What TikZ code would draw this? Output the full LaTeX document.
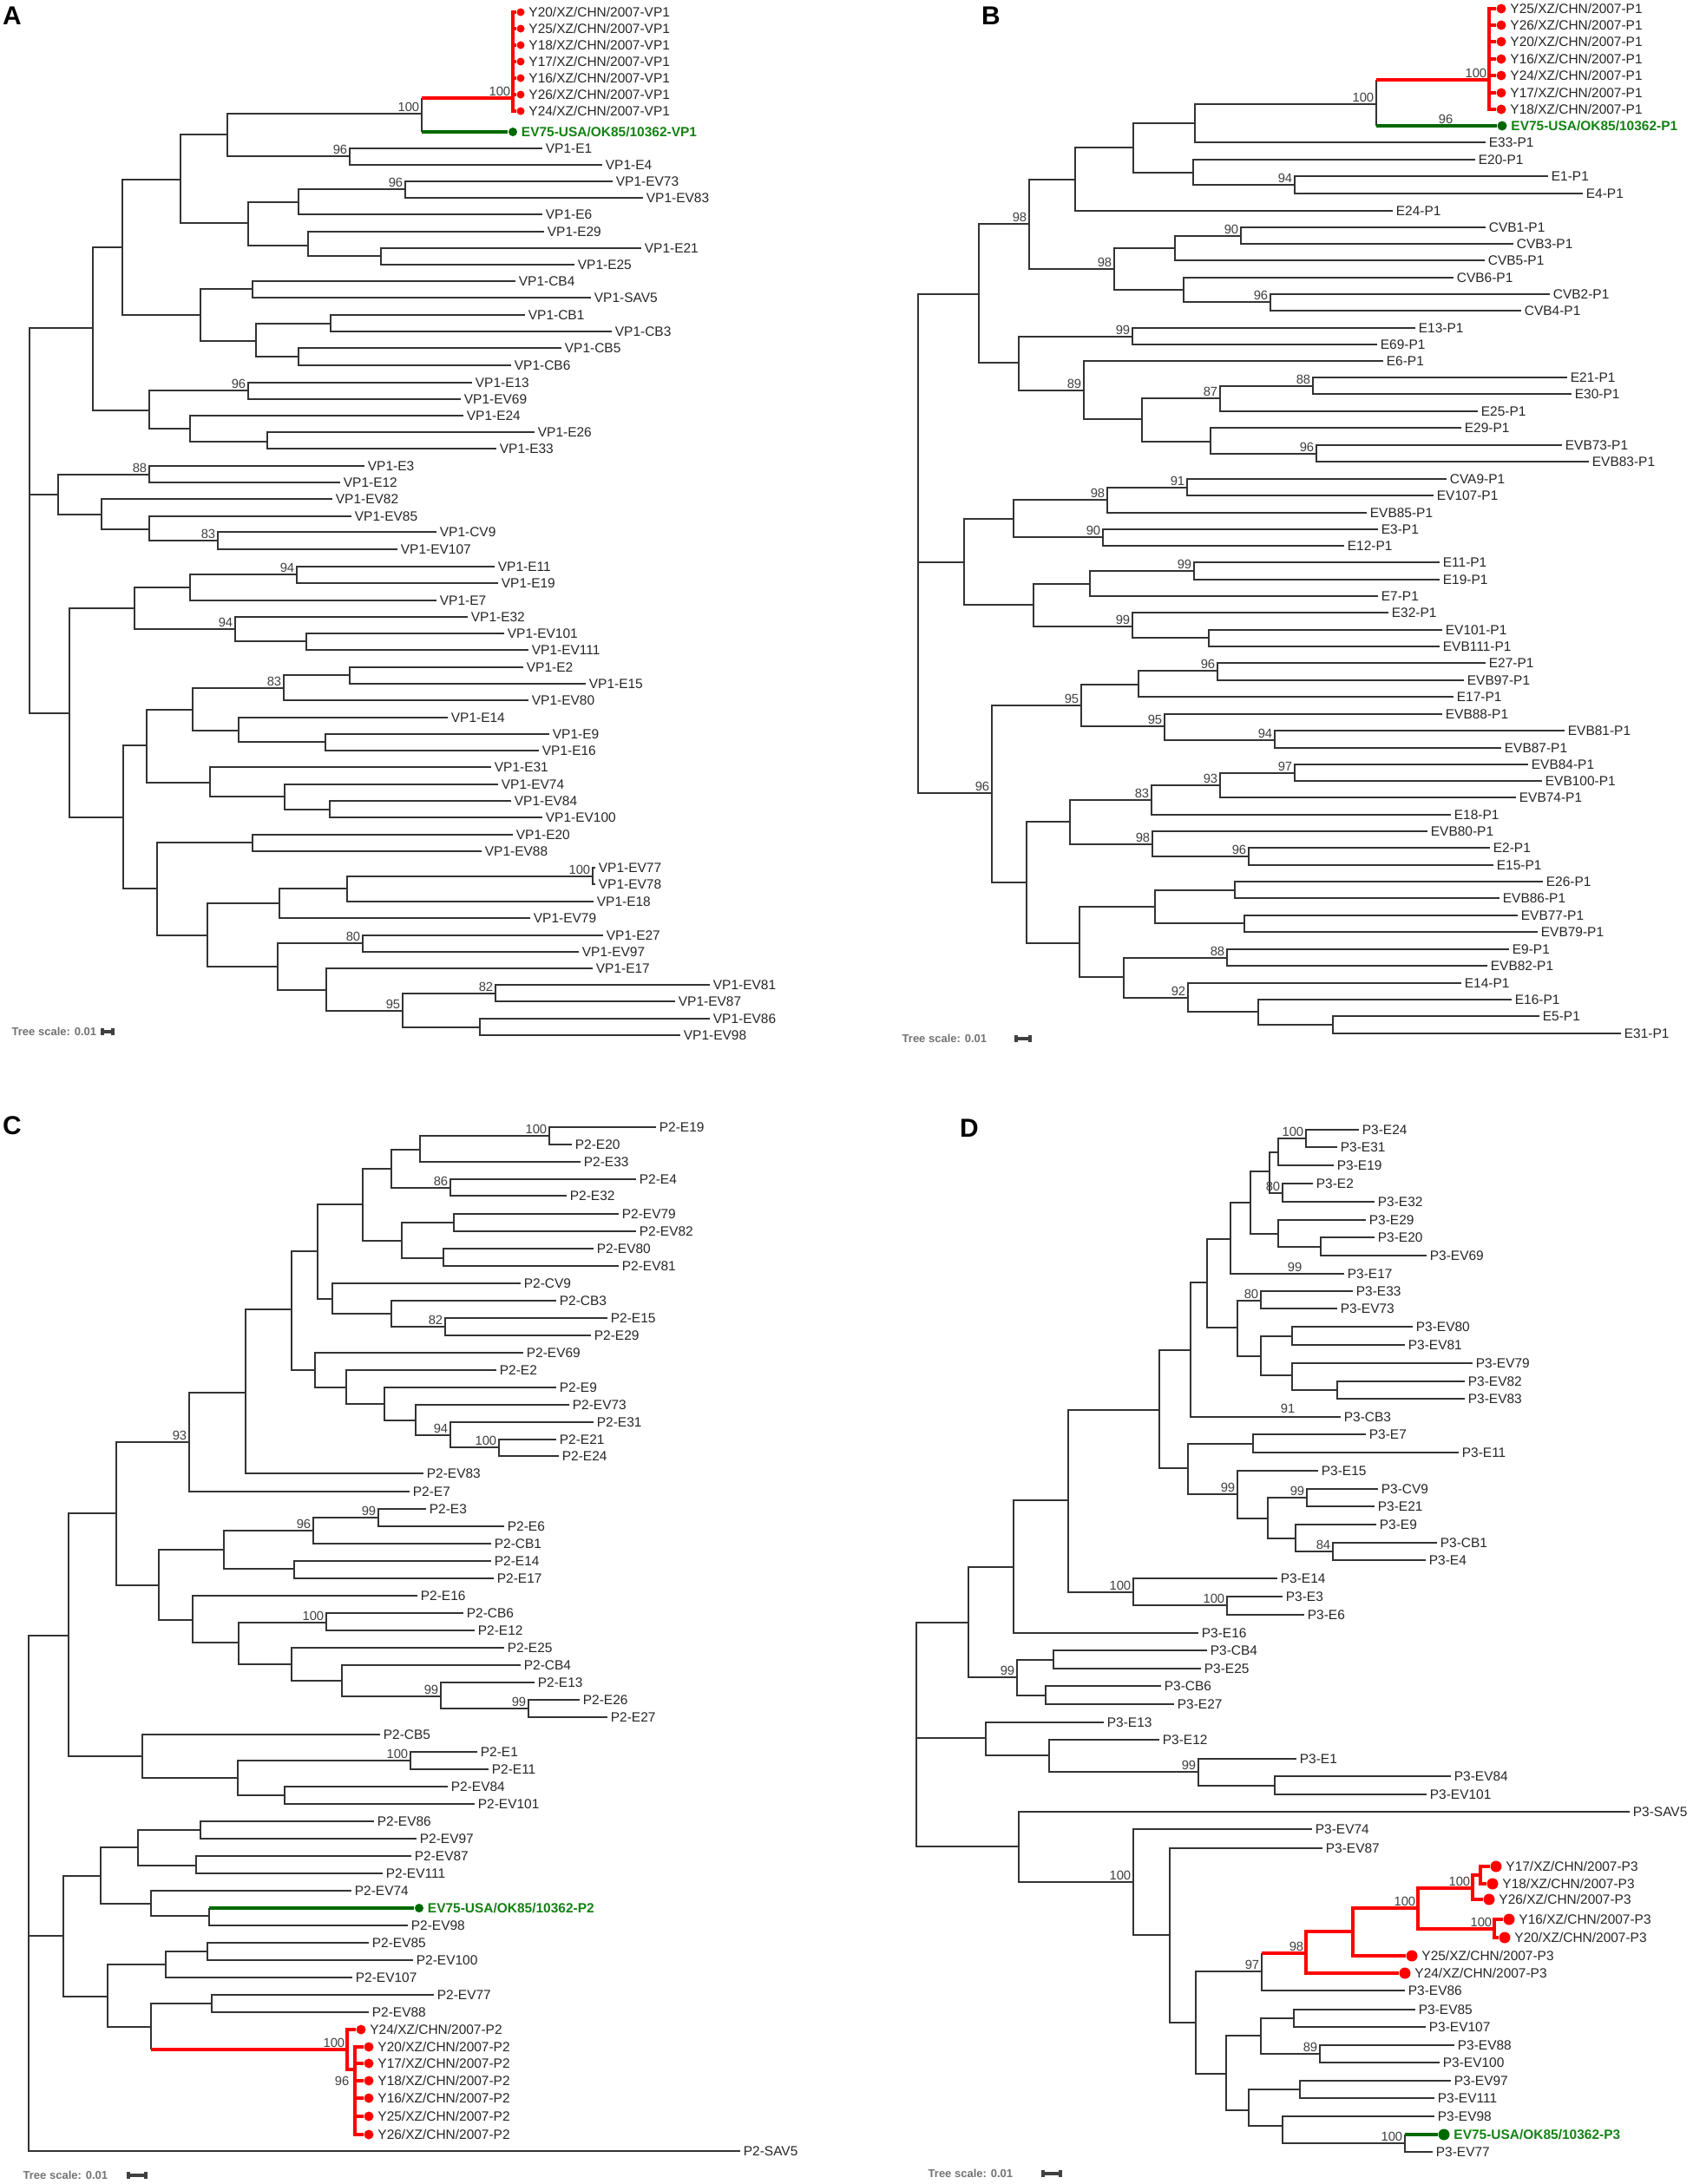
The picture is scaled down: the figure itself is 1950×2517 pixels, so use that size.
\documentclass[tikz,border=0pt]{standalone}
\usepackage{fontspec}
\setmainfont{Liberation Sans}
\usetikzlibrary{arrows.meta}
\definecolor{clade}{RGB}{255,0,0}
\definecolor{refgreen}{RGB}{0,105,0}
\definecolor{reftext}{RGB}{20,130,20}
\newcommand\lf{\fontsize{4.4}{5}\selectfont}
\newcommand\bsf{\fontsize{4.2}{5}\selectfont}
\tikzset{
  br/.style={line width=0.7pt, draw=black!80},
  rbr/.style={line width=1.1pt, draw=clade},
  gbr/.style={line width=1.4pt, draw=refgreen},
  leaf/.style={anchor=west, inner xsep=0.9pt, inner ysep=0.5pt, font=\lf, text=black!85},
  bs/.style={anchor=south east, inner sep=0.6pt, font=\bsf, text=black!75},
  bsat/.style={inner sep=0.6pt, font=\bsf, text=black!75},
  rdot/.style={circle, fill=clade, inner sep=0pt, minimum size=#1, label distance=2.4pt},
  gdot/.style={circle, fill=refgreen, inner sep=0pt, minimum size=#1, label distance=2.4pt},
  rtxt/.style={font=\lf, inner sep=1pt, text=black!85},
  gtxt/.style={font=\lf\bfseries, inner sep=1pt, text=reftext},
  panel/.style={font=\fontsize{8.5}{10}\selectfont\bfseries},
  scl/.style={anchor=west, inner sep=0pt, font=\fontsize{3.7}{4.5}\selectfont\bfseries, text=black!55},
  sbar/.style={line width=1pt, draw=black!75, arrows={Bar[width=2.2pt]-Bar[width=2.2pt]}}
}
\begin{document}
\begin{tikzpicture}[x=0.01cm, y=-0.01cm]
\path[use as bounding box, fill=white] (0,0) rectangle (1950,2517);

% panel A
\node[panel] (pA) at (14,18) {A};
\foreach \n/\x/\y in {aR/34/570, aN1/107/378, aN2/141/285, aN3/208/207, aN4/262/155, aN5/486/131,
  aRed/591/113, aN4b/403/180, aN6/286/257, aN7/344/233, aN7b/467/218, aN8/355/283, aN9/439/295,
  aN10/231/363, aN11/291/333, aN12/295/393, aN13/381/373, aN14/344/411, aN20/172/473, aN21/286/450,
  aN22/219/494, aN23/308/509, aN30/67/570, aN31/172/547, aN32/117/593, aN33/172/610, aN34/251/623,
  aN40/80/822, aN41/155/701, aN42/219/677, aN43/342/662, aN44/271/725, aN45/353/739, aN50/142/942,
  aN51/169/859, aN52/222/818, aN53/327/793, aN54/403/778, aN55/275/842, aN55b/375/855, aN56/242/902,
  aN57/328/918, aN58/380/933, aN60/181/1024, aN61/291/971, aN62/239/1078, aN63/322/1041,
  aN64/400/1024, aN65/683/1010, aN66/320/1114, aN67/418/1087, aN68/376/1141, aN69/464/1165,
  aN70/571/1145, aN71/553/1184}
  \coordinate (\n) at (\x,\y);
\foreach \s/\x/\y in {E1/625/171, E4/694/190, EV73/706/209, EV83/741/228, E6/625/247, E29/627/267,
  E21/739/286, E25/662/305, CB4/594/324, SAV5/681/343, CB1/605/363, CB3/705/382, CB5/647/401,
  CB6/589/421, E13/544/441, EV69/531/460, E24/534/479, E26/616/498, E33/572/517, E3/420/537,
  E12/392/556, EV82/383/575, EV85/405/595, CV9/503/613, EV107/458/633, E11/570/653, E19/574/672,
  E7/503/692, E32/539/711, EV101/581/730, EV111/609/749, E2/603/769, E15/675/788, EV80/609/807,
  E14/516/827, E9/633/846, E16/621/865, E31/566/884, EV74/574/904, EV84/589/923, EV100/625/942,
  E20/591/962, EV88/555/981, EV77/686/1000, EV78/686/1019, E18/684/1039, EV79/611/1058,
  E27/695/1078, EV97/667/1097, E17/683/1116, EV81/818/1135, EV87/778/1154, EV86/818/1174,
  EV98/784/1193}
  \node[leaf] (a\s) at (\x,\y) {VP1-\s};
\foreach \s/\y in {20/14, 25/33, 18/52, 17/71, 16/90, 26/109, 24/128}
  \node[rdot=0.09cm, label={[rtxt]right:Y\s/XZ/CHN/2007-VP1}] (aY\s) at (600,\y) {};
\node[gdot=0.1cm, label={[gtxt]right:EV75-USA/OK85/10362-VP1}] (aEV75) at (591,152) {};
\foreach \p/\c in {aR/aN1, aR/aN30, aR/aN40, aN1/aN2, aN1/aN20, aN2/aN3, aN2/aN10, aN3/aN4,
  aN3/aN6, aN4/aN5, aN4/aN4b, aN4b/aE1, aN4b/aE4, aN6/aN7, aN6/aN8, aN7/aN7b, aN7/aE6,
  aN7b/aEV73, aN7b/aEV83, aN8/aE29, aN8/aN9, aN9/aE21, aN9/aE25, aN10/aN11, aN10/aN12,
  aN11/aCB4, aN11/aSAV5, aN12/aN13, aN12/aN14, aN13/aCB1, aN13/aCB3, aN14/aCB5, aN14/aCB6,
  aN20/aN21, aN20/aN22, aN21/aE13, aN21/aEV69, aN22/aE24, aN22/aN23, aN23/aE26, aN23/aE33,
  aN30/aN31, aN30/aN32, aN31/aE3, aN31/aE12, aN32/aEV82, aN32/aN33, aN33/aEV85, aN33/aN34,
  aN34/aCV9, aN34/aEV107, aN40/aN41, aN40/aN50, aN41/aN42, aN41/aN44, aN42/aN43, aN42/aE7,
  aN43/aE11, aN43/aE19, aN44/aE32, aN44/aN45, aN45/aEV101, aN45/aEV111, aN50/aN51, aN50/aN60,
  aN51/aN52, aN51/aN56, aN52/aN53, aN52/aN55, aN53/aN54, aN53/aEV80, aN54/aE2, aN54/aE15,
  aN55/aE14, aN55/aN55b, aN55b/aE9, aN55b/aE16, aN56/aE31, aN56/aN57, aN57/aEV74, aN57/aN58,
  aN58/aEV84, aN58/aEV100, aN60/aN61, aN60/aN62, aN61/aE20, aN61/aEV88, aN62/aN63, aN62/aN66,
  aN63/aN64, aN63/aEV79, aN64/aN65, aN64/aE18, aN65/aEV77, aN65/aEV78, aN66/aN67, aN66/aN68,
  aN67/aE27, aN67/aEV97, aN68/aE17, aN68/aN69, aN69/aN70, aN69/aN71, aN70/aEV81, aN70/aEV87,
  aN71/aEV86, aN71/aEV98}
  \draw[br] (\p) |- (\c);
\draw[br] (aN5 |- aRed) -- (aN5 |- aEV75);
\draw[rbr] (aN5 |- aRed) -- (aRed);
\draw[gbr] (aN5 |- aEV75) -- (aEV75);
\foreach \s in {20,25,18,17,16,26,24}
  \draw[rbr] (aRed) |- (aY\s);
\foreach \n/\v in {aN5/100, aRed/100, aN4b/96, aN7b/96, aN21/96, aN31/88, aN34/83, aN43/94,
  aN44/94, aN53/83, aN65/100, aN67/80, aN69/95, aN70/82}
  \node[bs] (l\n) at (\n) {\v};
\node[scl] (aScale) at (13,1189) {Tree scale: 0.01};
\draw[sbar] (116,1189) -- (132,1189);

% panel B
\node[panel] (pB) at (1142,18) {B};
\foreach \n/\x/\y in {bR/1058/648, bN1/1128/339, bN2/1186/258, bN3/1239/207, bN4/1306/170,
  bN5/1377/142, bN5a/1586/120, bRed/1716/92, bN6/1375/199, bN7/1492/213, bN10/1284/310,
  bN11/1354/286, bN12/1430/272, bN13/1364/334, bN14/1464/348, bN20/1174/418, bN21/1305/388,
  bN22/1249/450, bN23/1316/483, bN24/1406/459, bN25/1513/445, bN26/1395/509, bN27/1517/523,
  bN40/1111/648, bN41/1168/598, bN42/1276/576, bN43/1368/562, bN44/1271/619, bN45/1191/697,
  bN46/1256/673, bN47/1376/658, bN48/1305/722, bN49/1393/735, bN60/1143/914, bN61/1246/813,
  bN62/1312/789, bN63/1403/773, bN64/1342/837, bN65/1469/853, bN70/1183/1017, bN71/1233/947,
  bN72/1327/922, bN73/1406/905, bN74/1492/891, bN75/1328/973, bN76/1439/987, bN80/1244/1087,
  bN81/1331/1045, bN82/1423/1026, bN83/1434/1064, bN84/1295/1126, bN85/1414/1104,
  bN86/1369/1150, bN87/1450/1166, bN88/1536/1181}
  \coordinate (\n) at (\x,\y);
\foreach \s/\x/\y in {E33/1712/164, E20/1700/184, E1/1784/203, E4/1824/223, E24/1605/243,
  CVB1/1712/262, CVB3/1744/281, CVB5/1711/300, CVB6/1675/320, CVB2/1786/339, CVB4/1753/358,
  E13/1631/378, E69/1587/397, E6/1594/416, E21/1806/435, E30/1811/454, E25/1703/474,
  E29/1684/493, EVB73/1800/513, EVB83/1831/532, CVA9/1667/552, EV107/1652/571, EVB85/1575/591,
  E3/1588/610, E12/1549/629, E11/1659/648, E19/1659/668, E7/1588/687, E32/1600/706,
  EV101/1662/726, EVB111/1659/745, E27/1712/764, EVB97/1687/784, E17/1675/803, EVB88/1662/823,
  EVB81/1803/842, EVB87/1730/862, EVB84/1761/881, EVB100/1777/900, EVB74/1747/919,
  E18/1672/939, EVB80/1645/958, E2/1717/977, E15/1721/997, E26/1778/1016, EVB86/1728/1035,
  EVB77/1749/1055, EVB79/1772/1074, E9/1739/1094, EVB82/1714/1113, E14/1684/1133,
  E16/1742/1152, E5/1774/1171, E31/1868/1191}
  \node[leaf] (b\s) at (\x,\y) {\s-P1};
\foreach \s/\y in {25/10, 26/29, 20/48, 16/68, 24/87, 17/107, 18/126}
  \node[rdot=0.11cm, label={[rtxt]right:Y\s/XZ/CHN/2007-P1}] (bY\s) at (1730,\y) {};
\node[gdot=0.11cm, label={[gtxt]right:EV75-USA/OK85/10362-P1}] (bEV75) at (1731,145) {};
\foreach \p/\c in {bR/bN1, bR/bN40, bR/bN60, bN1/bN2, bN1/bN20, bN2/bN3, bN2/bN10, bN3/bN4,
  bN3/bE24, bN4/bN5, bN4/bN6, bN5/bN5a, bN5/bE33, bN6/bE20, bN6/bN7, bN7/bE1, bN7/bE4,
  bN10/bN11, bN10/bN13, bN11/bN12, bN11/bCVB5, bN12/bCVB1, bN12/bCVB3, bN13/bCVB6, bN13/bN14,
  bN14/bCVB2, bN14/bCVB4, bN20/bN21, bN20/bN22, bN21/bE13, bN21/bE69, bN22/bE6, bN22/bN23,
  bN23/bN24, bN23/bN26, bN24/bN25, bN24/bE25, bN25/bE21, bN25/bE30, bN26/bE29, bN26/bN27,
  bN27/bEVB73, bN27/bEVB83, bN40/bN41, bN40/bN45, bN41/bN42, bN41/bN44, bN42/bN43,
  bN42/bEVB85, bN43/bCVA9, bN43/bEV107, bN44/bE3, bN44/bE12, bN45/bN46, bN45/bN48, bN46/bN47,
  bN46/bE7, bN47/bE11, bN47/bE19, bN48/bE32, bN48/bN49, bN49/bEV101, bN49/bEVB111,
  bN60/bN61, bN60/bN70, bN61/bN62, bN61/bN64, bN62/bN63, bN62/bE17, bN63/bE27, bN63/bEVB97,
  bN64/bEVB88, bN64/bN65, bN65/bEVB81, bN65/bEVB87, bN70/bN71, bN70/bN80, bN71/bN72,
  bN71/bN75, bN72/bN73, bN72/bE18, bN73/bN74, bN73/bEVB74, bN74/bEVB84, bN74/bEVB100,
  bN75/bEVB80, bN75/bN76, bN76/bE2, bN76/bE15, bN80/bN81, bN80/bN84, bN81/bN82, bN81/bN83,
  bN82/bE26, bN82/bEVB86, bN83/bEVB77, bN83/bEVB79, bN84/bN85, bN84/bN86, bN85/bE9,
  bN85/bEVB82, bN86/bE14, bN86/bN87, bN87/bE16, bN87/bN88, bN88/bE5, bN88/bE31}
  \draw[br] (\p) |- (\c);
\draw[br] (bN5a |- bRed) -- (bN5a |- bEV75);
\draw[rbr] (bN5a |- bRed) -- (bRed);
\draw[gbr] (bN5a |- bEV75) -- (bEV75);
\foreach \s in {25,26,20,16,24,17,18}
  \draw[rbr] (bRed) |- (bY\s);
\foreach \n/\v in {bN2/98, bN5a/100, bRed/100, bN7/94, bN10/98, bN12/90, bN14/96, bN21/99,
  bN22/89, bN24/87, bN25/88, bN27/96, bN42/98, bN43/91, bN44/90, bN47/99, bN48/99, bN60/96,
  bN61/95, bN63/96, bN64/95, bN65/94, bN72/83, bN73/93, bN74/97, bN75/98, bN76/96, bN85/88,
  bN86/92}
  \node[bs] (l\n) at (\n) {\v};
\node[bsat] (lbEV75) at (1666,137) {96};
\node[scl] (bScale) at (1039,1197) {Tree scale: 0.01};
\draw[sbar] (1169,1197) -- (1189,1197);

% panel C
\node[panel] (pC) at (14,1297) {C};
\foreach \n/\x/\y in {cR/33/2231, cN1/79/1885, cN2/134/1744, cN3/218/1662, cN4/283/1605,
  cN5/336/1509, cN6/366/1442, cN7/418/1388, cN8/451/1347, cN9/484/1325, cN9a/633/1309,
  cN10/519/1369, cN11/463/1430, cN12/523/1409, cN13/511/1450, cN14/383/1497, cN15/451/1514,
  cN16/513/1529, cN20/363/1579, cN21/399/1599, cN22/443/1618, cN23/479/1637, cN24/519/1654,
  cN25/575/1668, cN30/183/1827, cN31/258/1786, cN32/361/1764, cN33/436/1749, cN33b/339/1808,
  cN34/222/1867, cN35/275/1893, cN36/376/1870, cN37/336/1918, cN38/394/1937, cN39/508/1955,
  cN39a/609/1969, cN40/164/2024, cN41/274/2049, cN42/473/2029, cN43/328/2069, cN50/73/2231,
  cN51/116/2162, cN52/159/2129, cN53/231/2109, cN54/226/2150, cN55/174/2194, cN56/241/2208,
  cN60/124/2301, cN61/191/2264, cN62/239/2249, cN63/174/2336, cN64/244/2309, cRed/400/2362,
  cRed2/409/2385}
  \coordinate (\n) at (\x,\y);
\foreach \s/\x/\y in {E19/756/1299, E20/659/1319, E33/669/1339, E4/733/1359, E32/653/1378,
  EV79/713/1399, EV82/733/1419, EV80/684/1439, EV81/713/1459, CV9/600/1479, CB3/641/1499,
  E15/700/1519, E29/681/1539, EV69/603/1559, E2/572/1579, E9/641/1599, EV73/656/1619,
  E31/684/1639, E21/641/1659, E24/644/1678, EV83/488/1698, E7/472/1719, E3/491/1739,
  E6/581/1759, CB1/566/1779, E14/566/1799, E17/569/1819, E16/481/1839, CB6/534/1859,
  E12/547/1879, E25/581/1899, CB4/600/1919, E13/616/1939, E26/668/1959, E27/700/1979,
  CB5/438/1999, E1/550/2019, E11/563/2039, EV84/516/2059, EV101/547/2079, EV86/431/2099,
  EV97/480/2119, EV87/474/2139, EV111/441/2159, EV74/405/2179, EV98/470/2219, EV85/425/2239,
  EV100/476/2259, EV107/406/2279, EV77/500/2299, EV88/425/2319, SAV5/853/2479}
  \node[leaf] (c\s) at (\x,\y) {P2-\s};
\node[rdot=0.11cm, label={[rtxt]right:Y24/XZ/CHN/2007-P2}] (cY24) at (416,2339) {};
\foreach \s/\y in {20/2359, 17/2378, 18/2398, 16/2418, 25/2439, 26/2460}
  \node[rdot=0.11cm, label={[rtxt]right:Y\s/XZ/CHN/2007-P2}] (cY\s) at (425,\y) {};
\node[gdot=0.1cm, label={[gtxt]right:EV75-USA/OK85/10362-P2}] (cEV75) at (483,2199) {};
\foreach \p/\c in {cR/cN1, cR/cN50, cR/cSAV5, cN1/cN2, cN1/cN40, cN2/cN3, cN2/cN30, cN3/cN4,
  cN3/cE7, cN4/cN5, cN4/cEV83, cN5/cN6, cN5/cN20, cN6/cN7, cN6/cN14, cN7/cN8, cN7/cN11,
  cN8/cN9, cN8/cN10, cN9/cN9a, cN9/cE33, cN9a/cE19, cN9a/cE20, cN10/cE4, cN10/cE32,
  cN11/cN12, cN11/cN13, cN12/cEV79, cN12/cEV82, cN13/cEV80, cN13/cEV81, cN14/cCV9, cN14/cN15,
  cN15/cCB3, cN15/cN16, cN16/cE15, cN16/cE29, cN20/cEV69, cN20/cN21, cN21/cE2, cN21/cN22,
  cN22/cE9, cN22/cN23, cN23/cEV73, cN23/cN24, cN24/cE31, cN24/cN25, cN25/cE21, cN25/cE24,
  cN30/cN31, cN30/cN34, cN31/cN32, cN31/cN33b, cN32/cN33, cN32/cCB1, cN33/cE3, cN33/cE6,
  cN33b/cE14, cN33b/cE17, cN34/cE16, cN34/cN35, cN35/cN36, cN35/cN37, cN36/cCB6, cN36/cE12,
  cN37/cE25, cN37/cN38, cN38/cCB4, cN38/cN39, cN39/cE13, cN39/cN39a, cN39a/cE26, cN39a/cE27,
  cN40/cCB5, cN40/cN41, cN41/cN42, cN41/cN43, cN42/cE1, cN42/cE11, cN43/cEV84, cN43/cEV101,
  cN50/cN51, cN50/cN60, cN51/cN52, cN51/cN55, cN52/cN53, cN52/cN54, cN53/cEV86, cN53/cEV97,
  cN54/cEV87, cN54/cEV111, cN55/cEV74, cN55/cN56, cN56/cEV98, cN60/cN61, cN60/cN63,
  cN61/cN62, cN61/cEV107, cN62/cEV85, cN62/cEV100, cN63/cN64, cN64/cEV77, cN64/cEV88}
  \draw[br] (\p) |- (\c);
\draw[br] (cN56) -- (cN56 |- cEV75);
\draw[gbr] (cN56 |- cEV75) -- (cEV75);
\draw[br] (cN63) -- (cN63 |- cRed);
\draw[rbr] (cN63 |- cRed) -- (cRed);
\foreach \p/\c in {cRed/cY24, cRed/cRed2, cRed2/cY20, cRed2/cY17, cRed2/cY18, cRed2/cY16,
  cRed2/cY25, cRed2/cY26}
  \draw[rbr] (\p) |- (\c);
\foreach \n/\v in {cN3/93, cN9a/100, cN10/86, cN16/82, cN24/94, cN25/100, cN32/96, cN33/99,
  cN36/100, cN39/99, cN39a/99, cN42/100, cRed/100}
  \node[bs] (l\n) at (\n) {\v};
\node[bsat] (lcRed2) at (394,2398) {96};
\node[scl] (cScale) at (26,2507) {Tree scale: 0.01};
\draw[sbar] (146,2507) -- (170,2507);

% panel D
\node[panel] (pD) at (1117,1300) {D};
\foreach \n/\x/\y in {dR/1056/2003, dN1/1116/1870, dN2/1168/1806, dN3/1231/1729,
  dN4/1336/1625, dN5/1372/1556, dN6/1391/1478, dN7/1418/1428, dN8/1441/1386, dN9/1463/1350,
  dN10/1473/1328, dN11/1505/1312, dN12/1478/1375, dN13/1473/1422, dN14/1522/1437,
  dN20/1426/1530, dN21/1453/1499, dN22/1453/1563, dN23/1489/1540, dN24/1489/1585,
  dN25/1541/1602, dN30/1369/1692, dN31/1444/1664, dN32/1426/1722, dN33/1461/1750,
  dN34/1506/1726, dN35/1493/1773, dN36/1536/1788, dN45/1306/1835, dN46/1414/1850,
  dN50/1172/1933, dN51/1214/1913, dN52/1205/1954, dN60/1136/2003, dN61/1209/2023,
  dN62/1381/2042, dN63/1469/2058, dN70/1174/2128, dN71/1306/2169, dN72/1348/2230,
  dN73/1378/2331, dN74/1454/2272, dRed1/1505/2251, dRed2/1559/2226, dRed3/1634/2199,
  dRed4/1697/2176, dRed5/1706/2161, dRed6/1722/2223, dN80/1413/2390, dN81/1453/2346,
  dN82/1491/2326, dN83/1521/2367, dN84/1439/2432, dN85/1498/2408, dN86/1478/2450,
  dN87/1619/2470}
  \coordinate (\n) at (\x,\y);
\foreach \s/\x/\y in {E24/1566/1302, E31/1541/1322, E19/1537/1343, E2/1513/1364,
  E32/1584/1385, E29/1574/1406, E20/1584/1426, EV69/1644/1447, E17/1549/1468, E33/1559/1488,
  EV73/1541/1508, EV80/1628/1529, EV81/1619/1550, EV79/1697/1571, EV82/1688/1592,
  EV83/1688/1612, CB3/1545/1633, E7/1574/1653, E11/1681/1674, E15/1519/1695, CV9/1588/1716,
  E21/1584/1736, E9/1586/1757, CB1/1656/1778, E4/1643/1798, E14/1472/1819, E3/1478/1840,
  E6/1503/1861, E16/1381/1882, CB4/1391/1902, E25/1384/1923, CB6/1338/1943, E27/1353/1964,
  E13/1272/1985, E12/1336/2005, E1/1494/2027, EV84/1672/2047, EV101/1644/2068,
  SAV5/1878/2088, EV74/1512/2108, EV87/1524/2130, EV86/1619/2294, EV85/1631/2316,
  EV107/1643/2336, EV88/1676/2357, EV100/1659/2377, EV97/1672/2398, EV111/1653/2418,
  EV98/1653/2439, EV77/1651/2480}
  \node[leaf] (d\s) at (\x,\y) {P3-\s};
\foreach \s/\x/\y in {17/1724/2151, 18/1720/2171, 26/1716/2189, 16/1739/2212, 20/1734/2233,
  25/1627/2254, 24/1619/2274}
  \node[rdot=0.13cm, label={[rtxt]right:Y\s/XZ/CHN/2007-P3}] (dY\s) at (\x,\y) {};
\node[gdot=0.13cm, label={[gtxt]right:EV75-USA/OK85/10362-P3}] (dEV75) at (1664,2460) {};
\foreach \p/\c in {dR/dN1, dR/dN60, dR/dN70, dN1/dN2, dN1/dN50, dN2/dN3, dN2/dE16, dN3/dN4,
  dN3/dN45, dN4/dN5, dN4/dN30, dN5/dN6, dN5/dCB3, dN6/dN7, dN6/dN20, dN7/dN8, dN7/dE17,
  dN8/dN9, dN8/dN13, dN9/dN10, dN9/dN12, dN10/dN11, dN10/dE19, dN11/dE24, dN11/dE31,
  dN12/dE2, dN12/dE32, dN13/dE29, dN13/dN14, dN14/dE20, dN14/dEV69, dN20/dN21, dN20/dN22,
  dN21/dE33, dN21/dEV73, dN22/dN23, dN22/dN24, dN23/dEV80, dN23/dEV81, dN24/dEV79,
  dN24/dN25, dN25/dEV82, dN25/dEV83, dN30/dN31, dN30/dN32, dN31/dE7, dN31/dE11, dN32/dE15,
  dN32/dN33, dN33/dN34, dN33/dN35, dN34/dCV9, dN34/dE21, dN35/dE9, dN35/dN36, dN36/dCB1,
  dN36/dE4, dN45/dE14, dN45/dN46, dN46/dE3, dN46/dE6, dN50/dN51, dN50/dN52, dN51/dCB4,
  dN51/dE25, dN52/dCB6, dN52/dE27, dN60/dE13, dN60/dN61, dN61/dE12, dN61/dN62, dN62/dE1,
  dN62/dN63, dN63/dEV84, dN63/dEV101, dN70/dSAV5, dN70/dN71, dN71/dEV74, dN71/dN72,
  dN72/dEV87, dN72/dN73, dN73/dN74, dN73/dN80, dN74/dEV86, dN80/dN81, dN80/dN84, dN81/dN82,
  dN81/dN83, dN82/dEV85, dN82/dEV107, dN83/dEV88, dN83/dEV100, dN84/dN85, dN84/dN86,
  dN85/dEV97, dN85/dEV111, dN86/dEV98, dN86/dN87, dN87/dEV77}
  \draw[br] (\p) |- (\c);
\draw[br] (dN74) -- (dN74 |- dRed1);
\draw[rbr] (dN74 |- dRed1) -- (dRed1);
\draw[br] (dN87) -- (dN87 |- dEV75);
\draw[gbr] (dN87 |- dEV75) -- (dEV75);
\foreach \p/\c in {dRed1/dRed2, dRed1/dY24, dRed2/dRed3, dRed2/dY25, dRed3/dRed4,
  dRed3/dRed6, dRed4/dRed5, dRed4/dY26, dRed5/dY17, dRed5/dY18, dRed6/dY16, dRed6/dY20}
  \draw[rbr] (\p) |- (\c);
\foreach \n/\v in {dN11/100, dN12/80, dN21/80, dN32/99, dN34/99, dN36/84, dN45/100,
  dN46/100, dN50/99, dN62/99, dN71/100, dN74/97, dRed1/98, dRed3/100, dRed4/100, dRed6/100,
  dN83/89, dN87/100}
  \node[bs] (l\n) at (\n) {\v};
\node[bsat] (ldE17) at (1492,1460) {99};
\node[bsat] (ldCB3) at (1484,1623) {91};
\node[scl] (dScale) at (1069,2505) {Tree scale: 0.01};
\draw[sbar] (1200,2505) -- (1224,2505);
\end{tikzpicture}
\end{document}
